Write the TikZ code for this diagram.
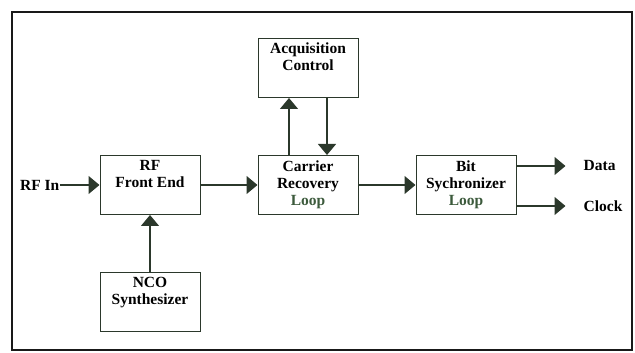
\documentclass[tikz,border=0pt]{standalone}
\usepackage{xcolor}
\usepackage{fontspec}
\setmainfont{Liberation Serif}
\usepackage{tikz}
\usetikzlibrary{positioning,arrows.meta}
\definecolor{wire}{HTML}{2B382B}
\definecolor{loopgreen}{HTML}{3C5A3C}

\begin{document}
\begin{tikzpicture}[x=1pt, y=1pt, node distance=57pt,
        blk/.style={draw=wire, rectangle, line width=1pt, minimum width=100pt, minimum height=59pt,
            align=center, font=\fontsize{15.5}{17}\selectfont\bfseries},
        arr/.style={-{Triangle[length=11pt, width=18pt]}, draw=wire, line width=1.2pt},
        lbl/.style={inner sep=0pt, font=\fontsize{15.5}{17}\selectfont\bfseries}]
        \useasboundingbox (0,0) rectangle (635,353);
        \draw[line width=2.2pt, draw=black!90] (12,3) rectangle (632,341);

        % Blocchi
        \node[blk] (fe) at (150,168) {RF\\Front End\\\strut};
        \node[blk, right=of fe] (cr) {Carrier\\Recovery\\\textcolor{loopgreen}{Loop}};
        \node[blk, right=of cr] (bit) {Bit\\Sychronizer\\\textcolor{loopgreen}{Loop}};
        \node[blk, above=of cr] (acq) {Acquisition\\Control\\\strut};
        \node[blk, below=of fe] (nco) {NCO\\Synthesizer\\\strut};

        % Ingresso e uscite
        \node[lbl, left=40pt of fe] (rfin) {RF In};
        \coordinate[right=49pt of bit.east, yshift=19pt] (dtip);
        \coordinate[right=49pt of bit.east, yshift=-21pt] (ctip);
        \node[lbl, right=18pt of dtip] (data) {Data};
        \node[lbl, right=18pt of ctip] (clock) {Clock};

        % Collegamenti
        \draw[arr] (rfin) -- (fe);
        \draw[arr] (fe) -- (cr);
        \draw[arr] (cr) -- (bit);
        \draw[arr] (nco) -- (fe);
        \draw[arr] ([xshift=-19pt]cr.north) -- ([xshift=-19pt]acq.south);
        \draw[arr] ([xshift=19pt]acq.south) -- ([xshift=19pt]cr.north);
        \draw[arr] (bit.east |- dtip) -- (dtip);
        \draw[arr] (bit.east |- ctip) -- (ctip);
\end{tikzpicture}
\end{document}
